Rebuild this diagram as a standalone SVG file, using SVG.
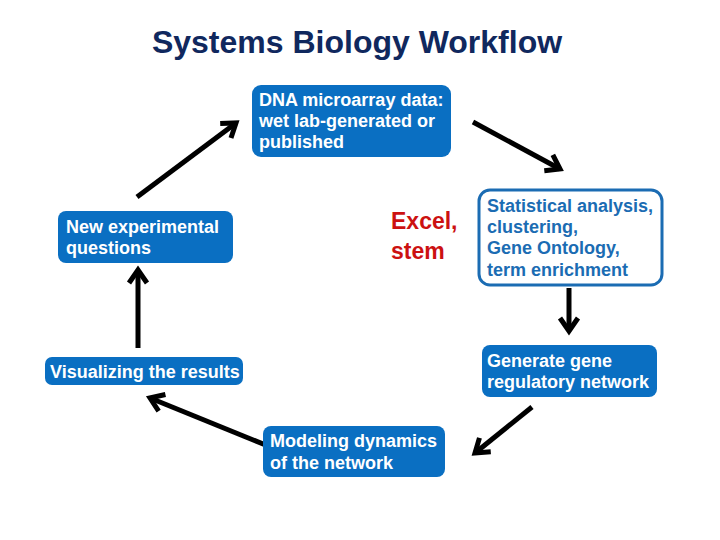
<svg xmlns="http://www.w3.org/2000/svg" width="720" height="540" viewBox="0 0 720 540">
<style>
.box{fill:#0a6fc2;}
.obox{fill:#ffffff;stroke:#1b6cb3;stroke-width:3;}
.t{font-family:"Liberation Sans",Arial,sans-serif;font-weight:bold;font-size:18px;fill:#ffffff;}
.tb{font-family:"Liberation Sans",Arial,sans-serif;font-weight:bold;font-size:18px;fill:#1b6cb3;}
.title{font-family:"Liberation Sans",Arial,sans-serif;font-weight:bold;font-size:32px;fill:#10285e;}
.red{font-family:"Liberation Sans",Arial,sans-serif;font-weight:bold;font-size:23px;fill:#cc1111;}
.arr{stroke:#000;stroke-width:5;fill:none;marker-end:url(#ah);}
</style>
<defs>
<marker id="ah" markerUnits="userSpaceOnUse" orient="auto" refX="0" refY="0" markerWidth="40" markerHeight="40" viewBox="-20 -20 40 40">
<path d="M-13,-9 L0,0 L-13,9" stroke="#000" stroke-width="5" fill="none"/>
</marker>
</defs>
<rect width="720" height="540" fill="#ffffff"/>
<text class="title" x="357" y="53" text-anchor="middle">Systems Biology Workflow</text>
<g id="connectors">
<line class="arr" x1="137" y1="197" x2="236" y2="123"/>
<line class="arr" x1="473" y1="122" x2="560" y2="169"/>
<line class="arr" x1="569" y1="288" x2="569" y2="331"/>
<line class="arr" x1="532" y1="407" x2="475" y2="453"/>
<line class="arr" x1="268" y1="446" x2="150" y2="398"/>
<line class="arr" x1="138" y1="348" x2="138" y2="270"/>
</g>
<g id="dna">
<rect class="box" x="252" y="85" width="199" height="72" rx="9"/>
<text class="t" x="259" y="106">DNA microarray data:</text>
<text class="t" x="259" y="127">wet lab-generated or</text>
<text class="t" x="259" y="148">published</text>
</g>
<g id="stats">
<rect class="obox" x="479" y="190" width="183" height="95" rx="11"/>
<text class="tb" x="487" y="212">Statistical analysis,</text>
<text class="tb" x="487" y="233">clustering,</text>
<text class="tb" x="487" y="254">Gene Ontology,</text>
<text class="tb" x="487" y="276">term enrichment</text>
</g>
<g id="excel">
<text class="red" x="391" y="229">Excel,</text>
<text class="red" x="391" y="259">stem</text>
</g>
<g id="grn">
<rect class="box" x="482" y="345" width="175" height="52" rx="8"/>
<text class="t" x="487" y="367">Generate gene</text>
<text class="t" x="487" y="388">regulatory network</text>
</g>
<g id="model">
<rect class="box" x="263" y="426" width="182" height="51" rx="8"/>
<text class="t" x="270" y="447">Modeling dynamics</text>
<text class="t" x="270" y="469">of the network</text>
</g>
<g id="vis">
<rect class="box" x="45" y="357" width="198" height="28" rx="7"/>
<text class="t" x="50" y="378">Visualizing the results</text>
</g>
<g id="newq">
<rect class="box" x="58" y="211" width="175" height="52" rx="8"/>
<text class="t" x="66" y="233">New experimental</text>
<text class="t" x="66" y="254">questions</text>
</g>
</svg>
